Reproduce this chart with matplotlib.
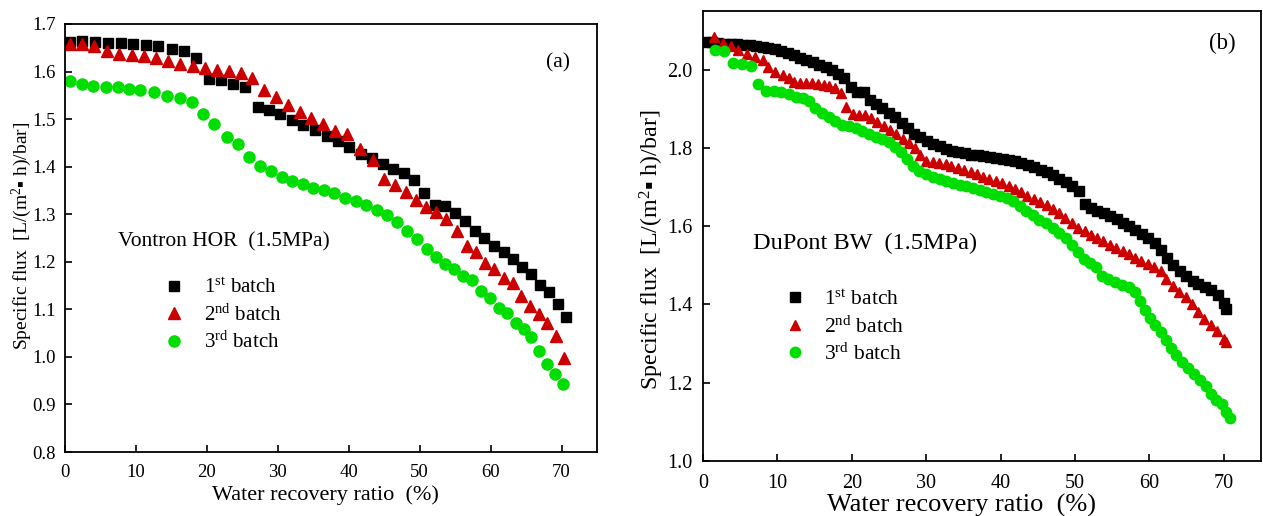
import matplotlib
matplotlib.use("Agg")
import matplotlib.pyplot as plt

plt.rcParams['font.family'] = ['Liberation Serif', 'DejaVu Serif']
plt.rcParams['mathtext.fontset'] = 'custom'
plt.rcParams['mathtext.rm'] = 'Liberation Serif'
plt.rcParams['mathtext.it'] = 'Liberation Serif:italic'

# ---- panel (a): Vontron HOR ----
a_x1 = [0.7, 2.35, 4.23, 6.0, 7.85, 9.63, 11.42, 13.15, 15.04, 16.77, 18.51, 20.3, 22.03,
        23.68, 25.41, 27.16, 28.71, 30.35, 32.04, 33.61, 35.26, 36.89, 38.51, 40.1, 41.68,
        43.23, 44.78, 46.27, 47.78, 49.23, 50.64, 52.15, 53.56, 54.93, 56.38, 57.79, 59.1,
        60.47, 61.83, 63.18, 64.45, 65.72, 66.95, 68.21, 69.48, 70.57]
a_y1 = [1.663, 1.664, 1.662, 1.661, 1.660, 1.658, 1.656, 1.653, 1.648, 1.644, 1.628, 1.585,
        1.583, 1.574, 1.568, 1.525, 1.519, 1.510, 1.498, 1.488, 1.478, 1.465, 1.454, 1.442,
        1.427, 1.418, 1.406, 1.396, 1.386, 1.373, 1.345, 1.319, 1.317, 1.303, 1.286, 1.265,
        1.250, 1.234, 1.220, 1.205, 1.189, 1.175, 1.152, 1.136, 1.111, 1.084]
a_x2 = [0.7, 2.35, 4.13, 5.96, 7.65, 9.49, 11.13, 12.83, 14.47, 16.21, 18.0, 19.73, 21.47,
        23.16, 24.81, 26.4, 28.09, 29.74, 31.43, 33.08, 34.65, 36.34, 38.08, 39.82, 41.58,
        43.37, 45.0, 46.51, 48.02, 49.43, 50.88, 52.25, 53.7, 55.21, 56.62, 57.89, 59.24,
        60.51, 61.83, 63.1, 64.27, 65.54, 66.77, 67.98, 69.16, 70.33]
a_y2 = [1.658, 1.657, 1.653, 1.644, 1.637, 1.635, 1.633, 1.628, 1.622, 1.616, 1.611, 1.607,
        1.604, 1.602, 1.597, 1.586, 1.562, 1.546, 1.529, 1.516, 1.503, 1.490, 1.476, 1.468,
        1.437, 1.413, 1.375, 1.361, 1.347, 1.330, 1.316, 1.304, 1.291, 1.264, 1.234, 1.220,
        1.198, 1.184, 1.166, 1.155, 1.128, 1.108, 1.091, 1.072, 1.044, 0.998]
a_x3 = [0.7, 2.35, 3.99, 5.74, 7.43, 9.06, 10.61, 12.59, 14.33, 16.21, 17.9, 19.49, 21.04,
        22.79, 24.43, 25.98, 27.48, 28.99, 30.54, 32.04, 33.52, 35.0, 36.51, 37.96, 39.47,
        40.97, 42.42, 43.93, 45.34, 46.75, 48.16, 49.57, 50.98, 52.25, 53.52, 54.83, 56.14,
        57.41, 58.63, 59.9, 61.13, 62.25, 63.52, 64.65, 65.72, 66.85, 67.98, 69.06, 70.15]
a_y3 = [1.581, 1.574, 1.569, 1.568, 1.567, 1.563, 1.561, 1.556, 1.549, 1.544, 1.537, 1.511,
        1.490, 1.462, 1.447, 1.421, 1.401, 1.391, 1.378, 1.370, 1.363, 1.355, 1.350, 1.344,
        1.335, 1.327, 1.319, 1.308, 1.299, 1.284, 1.265, 1.248, 1.227, 1.211, 1.196, 1.185,
        1.171, 1.162, 1.139, 1.124, 1.103, 1.093, 1.072, 1.058, 1.042, 1.013, 0.985, 0.964,
        0.943]

# ---- panel (b): DuPont BW ----
b_x1 = [0.3, 1.2, 2.0, 2.9, 3.7, 4.6, 5.4, 6.3, 7.1, 8.0, 8.8, 9.7, 10.5, 11.4, 12.2, 13.1,
        13.9, 14.8, 15.6, 16.5, 17.3, 18.2, 19.0, 19.9, 20.7, 21.6, 22.4, 23.3, 24.1, 25.0,
        25.8, 26.7, 27.5, 28.4, 29.2, 30.1, 30.9, 31.8, 32.6, 33.5, 34.3, 35.2, 36.0, 36.9,
        37.7, 38.6, 39.4, 40.3, 41.1, 42.0, 42.8, 43.7, 44.5, 45.4, 46.2, 47.1, 47.9, 48.8,
        49.6, 50.5, 51.3, 52.2, 53.0, 53.9, 54.7, 55.6, 56.4, 57.3, 58.1, 59.0, 59.8, 60.7,
        61.5, 62.4, 63.2, 64.1, 64.9, 65.8, 66.6, 67.5, 68.3, 69.2, 70.0, 70.3]
b_y1 = [2.072, 2.070, 2.069, 2.067, 2.066, 2.065, 2.063, 2.062, 2.060, 2.058, 2.056, 2.053,
        2.049, 2.043, 2.037, 2.031, 2.025, 2.019, 2.012, 2.006, 1.999, 1.990, 1.978, 1.955,
        1.944, 1.944, 1.922, 1.912, 1.902, 1.890, 1.878, 1.864, 1.850, 1.837, 1.827, 1.818,
        1.810, 1.804, 1.798, 1.793, 1.789, 1.786, 1.783, 1.781, 1.779, 1.777, 1.775, 1.772,
        1.769, 1.766, 1.762, 1.757, 1.751, 1.745, 1.738, 1.731, 1.722, 1.714, 1.703, 1.690,
        1.657, 1.647, 1.640, 1.633, 1.626, 1.618, 1.609, 1.600, 1.591, 1.580, 1.569, 1.558,
        1.540, 1.520, 1.500, 1.486, 1.472, 1.460, 1.452, 1.445, 1.437, 1.424, 1.405, 1.388]
b_x2 = [1.5, 2.7, 3.7, 4.7, 5.9, 7.0, 8.0, 8.8, 9.7, 10.8, 11.5, 12.2, 13.0, 13.8, 14.6,
        15.4, 16.2, 17.0, 17.8, 18.5, 19.2, 20.1, 21.0, 21.8, 22.6, 23.4, 24.3, 25.2, 26.0,
        26.9, 27.7, 28.5, 29.2, 30.0, 30.9, 31.7, 32.6, 33.4, 34.3, 35.1, 36.0, 36.8, 37.7,
        38.5, 39.4, 40.2, 41.1, 41.9, 42.8, 43.6, 44.5, 45.3, 46.2, 47.0, 47.9, 48.7, 49.6,
        50.4, 51.3, 52.1, 53.0, 53.8, 54.7, 55.5, 56.4, 57.2, 58.1, 58.9, 59.8, 60.6, 61.5,
        62.3, 63.2, 64.0, 64.9, 65.7, 66.6, 67.4, 68.3, 69.1, 70.0, 70.3]
b_y2 = [2.084, 2.069, 2.060, 2.051, 2.040, 2.033, 2.025, 2.008, 1.993, 1.987, 1.978, 1.969,
        1.967, 1.967, 1.966, 1.964, 1.962, 1.959, 1.954, 1.940, 1.905, 1.887, 1.885, 1.884,
        1.877, 1.866, 1.856, 1.845, 1.835, 1.823, 1.812, 1.800, 1.783, 1.768, 1.764, 1.762,
        1.760, 1.755, 1.750, 1.745, 1.739, 1.733, 1.727, 1.722, 1.716, 1.710, 1.703, 1.695,
        1.687, 1.678, 1.669, 1.661, 1.653, 1.644, 1.634, 1.622, 1.608, 1.595, 1.588, 1.578,
        1.570, 1.562, 1.553, 1.544, 1.536, 1.528, 1.519, 1.510, 1.503, 1.496, 1.486, 1.466,
        1.447, 1.433, 1.419, 1.400, 1.380, 1.364, 1.348, 1.331, 1.313, 1.304]
b_x3 = [1.6, 2.8, 4.1, 5.3, 6.4, 7.4, 8.5, 9.5, 10.5, 11.5, 12.5, 13.4, 14.3, 15.1, 16.0,
        16.9, 17.8, 18.7, 19.6, 20.5, 21.4, 22.3, 23.2, 24.1, 25.0, 25.8, 26.6, 27.4, 28.2,
        29.1, 30.0, 30.9, 31.8, 32.7, 33.6, 34.5, 35.4, 36.3, 37.2, 38.1, 39.0, 39.9, 40.8,
        41.7, 42.6, 43.4, 44.3, 45.2, 46.1, 47.0, 47.9, 48.8, 49.6, 50.4, 51.2, 52.0, 52.8,
        53.6, 54.5, 55.4, 56.3, 57.2, 58.0, 58.7, 59.4, 60.1, 60.8, 61.5, 62.2, 62.9, 63.6,
        64.4, 65.2, 66.0, 66.8, 67.6, 68.3, 69.0, 69.7, 70.3, 70.9]
b_y3 = [2.051, 2.048, 2.018, 2.015, 2.010, 1.964, 1.946, 1.945, 1.943, 1.938, 1.931, 1.927,
        1.921, 1.903, 1.889, 1.879, 1.868, 1.860, 1.855, 1.850, 1.844, 1.835, 1.828, 1.823,
        1.816, 1.802, 1.790, 1.773, 1.754, 1.741, 1.733, 1.726, 1.721, 1.716, 1.710, 1.706,
        1.702, 1.699, 1.693, 1.688, 1.683, 1.677, 1.671, 1.664, 1.652, 1.640, 1.628, 1.617,
        1.607, 1.596, 1.583, 1.569, 1.553, 1.533, 1.516, 1.507, 1.497, 1.473, 1.466, 1.458,
        1.451, 1.444, 1.432, 1.410, 1.385, 1.365, 1.348, 1.330, 1.310, 1.290, 1.271, 1.252,
        1.237, 1.222, 1.207, 1.192, 1.172, 1.157, 1.146, 1.125, 1.110]

labels = ['1$^{\\rm st}$ batch', '2$^{\\rm nd}$ batch', '3$^{\\rm rd}$ batch']
colors = ['black', '#cc0000', '#00dd00']
markers = ['s', '^', 'o']
ylab = 'Specific flux  [L/(m$^2$\u25aa h)/bar]'

fig = plt.figure(figsize=(12.63, 5.16), dpi=100)
ax1 = fig.add_axes([0.0515, 0.124, 0.4212, 0.8295])
ax2 = fig.add_axes([0.5566, 0.1066, 0.4418, 0.872])

for ax, xs, ys, ms in [(ax1, [a_x1, a_x2, a_x3], [a_y1, a_y2, a_y3], [7.5, 8.5, 8]),
                       (ax2, [b_x1, b_x2, b_x3], [b_y1, b_y2, b_y3], [6.5, 7.5, 7.5])]:
    for x, y, c, m, lab, s in zip(xs, ys, colors, markers, labels, ms):
        ax.plot(x, y, linestyle='none', marker=m, color=c, markersize=s, label=lab)
    ax.set_xlim(0, 75)
    ax.set_xticks(range(0, 80, 10))
    ax.tick_params(direction='in', length=5, width=1.2)
    for sp in ax.spines.values():
        sp.set_linewidth(1.3)

# panel a
ax1.set_ylim(0.8, 1.7)
ax1.set_yticks([0.8, 0.9, 1.0, 1.1, 1.2, 1.3, 1.4, 1.5, 1.6, 1.7])
ax1.tick_params(labelsize=13.5)
ax1.tick_params(axis='x', pad=8.5)
ax1.tick_params(axis='y', pad=6.5)
ax1.set_xlabel('Water recovery ratio  (%)', fontsize=16)
ax1.set_ylabel(ylab, fontsize=14)
ax1.xaxis.set_label_coords(0.489, -0.078)
ax1.yaxis.set_label_coords(-0.059, 0.505)
ax1.text(0.927, 0.91, '(a)', transform=ax1.transAxes, fontsize=15.5, ha='center', va='center')
ax1.text(0.1, 0.49, 'Vontron HOR  (1.5MPa)', transform=ax1.transAxes, fontsize=15.5,
         ha='left', va='center')
ax1.legend(loc='upper left', bbox_to_anchor=(0.16, 0.425), frameon=False, fontsize=15,
           handletextpad=0.7, labelspacing=0.3, borderaxespad=0, handlelength=1.5)

# panel b
ax2.set_ylim(1.0, 2.15)
ax2.set_yticks([1.0, 1.2, 1.4, 1.6, 1.8, 2.0])
ax2.set_yticklabels(['1.0', '1.2', '1.4', '1.6', '1.8', '2.0'])
ax2.tick_params(labelsize=14.5)
ax2.tick_params(axis='x', pad=9.5)
ax2.tick_params(axis='y', pad=7.5)
ax2.set_xlabel('Water recovery ratio  (%)', fontsize=19)
ax2.set_ylabel(ylab, fontsize=17.3)
ax2.xaxis.set_label_coords(0.464, -0.074)
ax2.yaxis.set_label_coords(-0.067, 0.47)
ax2.text(0.93, 0.929, '(b)', transform=ax2.transAxes, fontsize=16.5, ha='center', va='center')
ax2.text(0.09, 0.484, 'DuPont BW  (1.5MPa)', transform=ax2.transAxes, fontsize=17.5,
         ha='left', va='center')
ax2.legend(loc='upper left', bbox_to_anchor=(0.121, 0.40), frameon=False, fontsize=15.5,
           handletextpad=0.6, labelspacing=0.3, borderaxespad=0, handlelength=1.5)

fig.savefig('out.png', dpi=100)
